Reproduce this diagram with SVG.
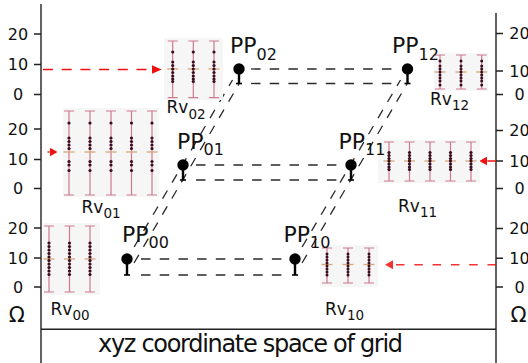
<svg xmlns="http://www.w3.org/2000/svg" width="528" height="363" viewBox="0 0 528 363">
<style>
text{font-family:"DejaVu Sans","Liberation Sans",sans-serif;fill:#111}
.ax{stroke:#222;stroke-width:1.4;fill:none}
.tk{font-size:16px;text-anchor:middle}
.om{font-size:21px;text-anchor:middle}
.pp{font-size:22px}
.pp tspan{font-size:16px}
.rv{font-size:17px}
.rv tspan{font-size:13.5px}
.bg{fill:#f6f6f6}
.bar{stroke:#cc7a8c;stroke-width:1.2;fill:none}
.mean{stroke:#d9a77a;stroke-width:1.3}
.dot{fill:#3a0d1e}
.pin{fill:#000}
.stem{stroke:#000;stroke-width:2.4}
.foot{stroke:#000;stroke-width:1.6}
.dash{stroke:#2a2a2a;stroke-width:1.3;stroke-dasharray:9.5 9.2;fill:none}
.red{stroke:#f01010;stroke-width:1.5;fill:none}
</style>
<defs>
<marker id="ah" markerUnits="userSpaceOnUse" markerWidth="8" markerHeight="9" refX="0" refY="4.5" orient="auto"><path d="M0,0L8,4.5L0,9z" fill="#f01010"/></marker>
<marker id="ahL" markerUnits="userSpaceOnUse" markerWidth="10" markerHeight="9" refX="0" refY="4.5" orient="auto"><path d="M0,0L10,4.5L0,9z" fill="#f01010"/></marker>
<g id="b02"><path class="bar" d="M0,41V97.7M-5,41H5M-5,97.7H5"/><path class="mean" d="M-5.5,69H5.5"/><g class="dot"><circle cy="52" r="1.6"/><circle cy="62" r="1.6"/><circle cy="65.5" r="1.6"/><circle cy="69" r="1.6"/><circle cy="72.5" r="1.6"/><circle cy="76" r="1.6"/><circle cy="79" r="1.6"/><circle cy="81.5" r="1.6"/></g></g>
<g id="b12"><path class="bar" d="M0,55V89M-5,55H5M-5,89H5"/><path class="mean" d="M-5.5,72H5.5"/><g class="dot"><circle cy="61" r="1.5"/><circle cy="66" r="1.5"/><circle cy="69" r="1.5"/><circle cy="72" r="1.5"/><circle cy="75" r="1.5"/><circle cy="78" r="1.5"/><circle cy="81" r="1.5"/><circle cy="85" r="1.5"/></g></g>
<g id="b01"><path class="bar" d="M0,111V195M-5,111H5M-5,195H5"/><path class="mean" d="M-5.5,152H5.5"/><g class="dot"><circle cy="123" r="1.6"/><circle cy="138" r="1.6"/><circle cy="141.5" r="1.6"/><circle cy="145" r="1.6"/><circle cy="148.5" r="1.6"/><circle cy="161.5" r="1.6"/><circle cy="165" r="1.6"/><circle cy="170.5" r="1.6"/></g></g>
<g id="b11"><path class="bar" d="M0,142V181M-5,142H5M-5,181H5"/><path class="mean" d="M-5.5,161H5.5"/><g class="dot"><circle cy="152.5" r="1.6"/><circle cy="155.5" r="1.6"/><circle cy="158.5" r="1.6"/><circle cy="161" r="1.6"/><circle cy="164" r="1.6"/><circle cy="167" r="1.6"/><circle cy="169.5" r="1.6"/></g></g>
<g id="b00"><path class="bar" d="M0,226V292M-5,226H5M-5,292H5"/><path class="mean" d="M-5.5,259H5.5"/><g class="dot"><circle cy="243" r="1.6"/><circle cy="246.5" r="1.6"/><circle cy="250" r="1.6"/><circle cy="253.5" r="1.6"/><circle cy="257" r="1.6"/><circle cy="260.5" r="1.6"/><circle cy="264" r="1.6"/><circle cy="267.5" r="1.6"/><circle cy="271" r="1.6"/><circle cy="274.5" r="1.6"/></g></g>
<g id="b10"><path class="bar" d="M0,248V283M-5,248H5M-5,283H5"/><path class="mean" d="M-5.5,264.5H5.5"/><g class="dot"><circle cy="254" r="1.5"/><circle cy="257" r="1.5"/><circle cy="260" r="1.5"/><circle cy="263" r="1.5"/><circle cy="266" r="1.5"/><circle cy="269" r="1.5"/><circle cy="272" r="1.5"/><circle cy="275" r="1.5"/></g></g>
</defs>

<g id="axes">
<path class="ax" d="M41,4V363M496,13V363M41,329.3H496"/>
<path class="ax" d="M34,34H41M34,64.5H41M34,94.5H41M34,129H41M34,159.5H41M34,188.5H41M34,228H41M34,258H41M34,287H41"/>
<path class="ax" d="M496,33.5H503M496,71H503M496,94.5H503M496,130.5H503M496,161H503M496,188.5H503M496,228.5H503M496,258.3H503M496,287H503"/>
<g class="tk">
<text x="18" y="39.8">20</text><text x="18" y="70.3">10</text><text x="18" y="100.3">0</text>
<text x="18" y="134.8">20</text><text x="18" y="165.3">10</text><text x="18" y="194.3">0</text>
<text x="18" y="233.8">20</text><text x="18" y="263.8">10</text><text x="18" y="292.8">0</text>
<text x="519.5" y="39.3">20</text><text x="519.5" y="76.8">10</text><text x="519.5" y="100.3">0</text>
<text x="519.5" y="136.3">20</text><text x="519.5" y="166.8">10</text><text x="519.5" y="194.3">0</text>
<text x="519.5" y="234.3">20</text><text x="519.5" y="264.1">10</text><text x="519.5" y="292.8">0</text>
</g>
<text class="om" x="16.7" y="321.5">Ω</text>
<text class="om" x="518.5" y="321.5">Ω</text>
<text x="98" y="352" font-size="24" textLength="305">xyz coordinate space of grid</text>
</g>

<g id="connectors">
<line class="dash" x1="251" y1="69" x2="393" y2="69"/>
<line class="dash" x1="251" y1="83.5" x2="393" y2="83.5"/>
<line class="dash" x1="196" y1="165" x2="343" y2="165"/>
<line class="dash" x1="196" y1="180" x2="343" y2="180"/>
<line class="dash" x1="141" y1="259" x2="286" y2="259"/>
<line class="dash" x1="141" y1="275" x2="286" y2="275"/>
<line class="dash" x1="134.1" y1="247" x2="232.5" y2="80"/>
<line class="dash" x1="134" y1="263" x2="239" y2="84"/>
<line class="dash" x1="302.1" y1="247" x2="400.5" y2="80"/>
<line class="dash" x1="302" y1="263" x2="407" y2="84"/>
<line class="red" x1="43" y1="69.5" x2="151.7" y2="69.5" stroke-dasharray="10 8.7" marker-end="url(#ahL)"/>
<line class="red" x1="47.5" y1="152" x2="49.5" y2="152" marker-end="url(#ah)"/>
<line class="red" x1="496" y1="161" x2="487.3" y2="161" marker-end="url(#ah)"/>
<line class="red" x1="496" y1="264.7" x2="393" y2="264.7" stroke-dasharray="8.5 9.8" marker-end="url(#ah)" opacity="0.85"/>
</g>

<g id="Rv02"><rect class="bg" x="164" y="38" width="59" height="62"/><use href="#b02" x="172.7"/><use href="#b02" x="193.3"/><use href="#b02" x="214"/><text class="rv" x="166.5" y="113">Rv<tspan dy="5.5">02</tspan></text></g>
<g id="Rv12"><rect class="bg" x="434" y="53" width="54" height="38"/><use href="#b12" x="440"/><use href="#b12" x="461"/><use href="#b12" x="481.7"/><text class="rv" x="430" y="104.5">Rv<tspan dy="5.5">12</tspan></text></g>
<g id="Rv01"><rect class="bg" x="63" y="108" width="96" height="89"/><use href="#b01" x="69"/><use href="#b01" x="90"/><use href="#b01" x="111"/><use href="#b01" x="131.5"/><use href="#b01" x="152"/><text class="rv" x="81.5" y="212.5">Rv<tspan dy="5">01</tspan></text></g>
<g id="Rv11"><rect class="bg" x="378" y="140" width="102" height="43"/><use href="#b11" x="389"/><use href="#b11" x="409.5"/><use href="#b11" x="430"/><use href="#b11" x="450.5"/><use href="#b11" x="471"/><text class="rv" x="398" y="212">Rv<tspan dy="5">11</tspan></text></g>
<g id="Rv00"><rect class="bg" x="43" y="223" width="57" height="72"/><use href="#b00" x="49"/><use href="#b00" x="69.5"/><use href="#b00" x="90"/><text class="rv" x="50.5" y="315">Rv<tspan dy="4.5">00</tspan></text></g>
<g id="Rv10"><rect class="bg" x="320" y="245" width="58" height="42"/><use href="#b10" x="327"/><use href="#b10" x="348"/><use href="#b10" x="369"/><text class="rv" x="325" y="315">Rv<tspan dy="4.5">10</tspan></text></g>

<g id="PP02"><line class="stem" x1="239" y1="69" x2="239" y2="83.5"/><line class="foot" x1="236" y1="83.5" x2="242" y2="83.5"/><circle class="pin" cx="239" cy="69" r="5.7"/><text class="pp" x="230" y="53">PP<tspan dy="6.5">02</tspan></text></g>
<g id="PP12"><line class="stem" x1="407.5" y1="69" x2="407.5" y2="83.5"/><line class="foot" x1="404.5" y1="83.5" x2="410.5" y2="83.5"/><circle class="pin" cx="407.5" cy="69" r="5.7"/><text class="pp" x="392" y="53">PP<tspan dy="6.5">12</tspan></text></g>
<g id="PP01"><line class="stem" x1="183" y1="165" x2="183" y2="180"/><line class="foot" x1="180" y1="180" x2="186" y2="180"/><circle class="pin" cx="183" cy="165" r="5.7"/><text class="pp" x="177" y="148.5">PP<tspan dy="6.5">01</tspan></text></g>
<g id="PP11"><line class="stem" x1="351" y1="165" x2="351" y2="180"/><line class="foot" x1="348" y1="180" x2="354" y2="180"/><circle class="pin" cx="351" cy="165" r="5.7"/><text class="pp" x="338.5" y="148.5">PP<tspan dy="6.5">11</tspan></text></g>
<g id="PP00"><line class="stem" x1="127" y1="259" x2="127" y2="275"/><line class="foot" x1="124" y1="275" x2="130" y2="275"/><circle class="pin" cx="127" cy="259" r="5.7"/><text class="pp" x="122" y="242">PP<tspan dy="6">00</tspan></text></g>
<g id="PP10"><line class="stem" x1="295" y1="259" x2="295" y2="275"/><line class="foot" x1="292" y1="275" x2="298" y2="275"/><circle class="pin" cx="295" cy="259" r="5.7"/><text class="pp" x="283.5" y="242">PP<tspan dy="6">10</tspan></text></g>
</svg>
